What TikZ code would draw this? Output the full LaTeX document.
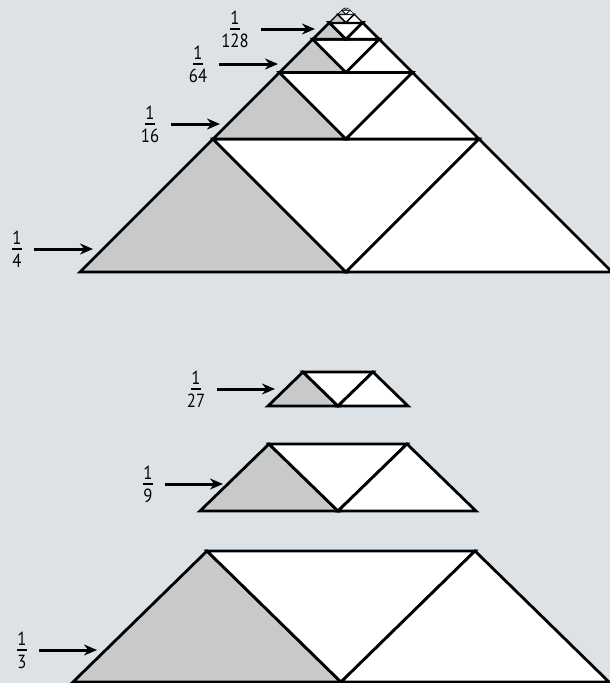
\documentclass[tikz,border=0pt]{standalone}
\usepackage{fontspec}
\setmainfont{PT Sans}[FakeStretch=0.88]
\usetikzlibrary{arrows.meta}
\definecolor{PageBg}   {RGB}{221,226,231}
\definecolor{ShadeFill}{RGB}{200,201,203}
\tikzset{
  tri_grey/.style={draw=black,fill=ShadeFill,line width=2.8pt},
  tri_white/.style={draw=black,fill=white,line width=2.8pt},
  lbl_frac/.style={inner sep=0pt,font=\fontsize{19}{19}\selectfont},
  arr/.style={-{Stealth[length=13pt,width=11pt]},line width=3pt,shorten <=12pt},
}
\newcommand{\stackfr}[2]{\shortstack{#1\\[1pt]\rule{10pt}{1.5pt}\\[1pt]#2}}

\begin{document}
\begin{tikzpicture}[x=1pt,y=-1pt]
\useasboundingbox (0,0) rectangle (610,683);
\fill[PageBg] (0,0) rectangle (610,683);
% Top: halving triangle
\def\cx{346}\def\ay{6}
\foreach \k in {0,...,6}{
  \pgfmathsetmacro{\w}{266/2^\k}
  \pgfmathsetmacro{\lw}{min(2.8,\w/12)}
  \filldraw[tri_grey,line width=\lw pt]  (\cx-\w,\ay+\w) -- (\cx-\w/2,\ay+\w/2) -- (\cx,\ay+\w) -- cycle;
  \filldraw[tri_white,line width=\lw pt] (\cx-\w/2,\ay+\w/2) -- (\cx+\w/2,\ay+\w/2) -- (\cx,\ay+\w) -- cycle;
  \filldraw[tri_white,line width=\lw pt] (\cx,\ay+\w) -- (\cx+\w/2,\ay+\w/2) -- (\cx+\w,\ay+\w) -- cycle;
}
% Bottom: thirds
\foreach \c/\yb/\a/\h in {341/682/134/131,338/511/69/67,338/406/35/34}{
  \filldraw[tri_grey]  (\c-2*\a,\yb) -- (\c-\a,\yb-\h) -- (\c,\yb) -- cycle;
  \filldraw[tri_white] (\c-\a,\yb-\h) -- (\c+\a,\yb-\h) -- (\c,\yb) -- cycle;
  \filldraw[tri_white] (\c,\yb) -- (\c+\a,\yb-\h) -- (\c+2*\a,\yb) -- cycle;
}
% labels
\node[lbl_frac] (f4)   at (17,249)  {\stackfr{1}{4}};
\node[lbl_frac] (f16)  at (150,124) {\stackfr{1}{16}};
\node[lbl_frac] (f64)  at (198,64)  {\stackfr{1}{64}};
\node[lbl_frac] (f128) at (235,29)  {\stackfr{1}{128}};
\node[lbl_frac] (f27)  at (196,389) {\stackfr{1}{27}};
\node[lbl_frac] (f9)   at (148,484) {\stackfr{1}{9}};
\node[lbl_frac] (f3)   at (22,650)  {\stackfr{1}{3}};
\coordinate (t4)   at (93,249);
\coordinate (t16)  at (220,124);
\coordinate (t64)  at (278,64);
\coordinate (t128) at (315,29);
\coordinate (t27)  at (275,389);
\coordinate (t9)   at (223,484);
\coordinate (t3)   at (97,650);
% arrows
\foreach \n in {4,16,64,128,27,9,3}{\draw[arr] (f\n.east) -- (t\n);}
\end{tikzpicture}
\end{document}
